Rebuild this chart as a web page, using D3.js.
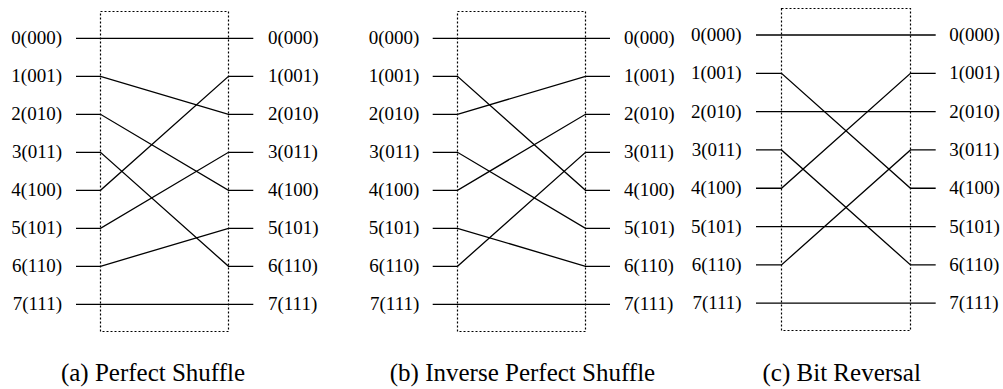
<!DOCTYPE html>
<html>
<head>
<meta charset="utf-8">
<script src="https://cdn.jsdelivr.net/npm/d3@7"></script>
<style>
html,body{margin:0;padding:0;background:#fff;}
svg{display:block;}
</style>
</head>
<body>
<svg id="chart" width="1003" height="389"></svg>
<script>
// ---- data ----
const nodeLabels = ["0(000)","1(001)","2(010)","3(011)","4(100)","5(101)","6(110)","7(111)"];
const perfectShuffle = [0,2,4,6,1,3,5,7];          // input i -> output
const inversePerfectShuffle = [0,4,1,5,2,6,3,7];
const bitReversal = [0,4,2,6,1,5,3,7];
const captions = ["(a) Perfect Shuffle","(b) Inverse Perfect Shuffle","(c) Bit Reversal"];
const mappings = [perfectShuffle, inversePerfectShuffle, bitReversal];

// ---- layout ----
const FONT = "Liberation Serif";
const panels = [
  {labelL:62, lineL:76, boxL:100.5, boxR:228.5, lineR:253.3, labelR:268, top:11.5, bottom:331.5, r0:38.3, r7:304.3, capX:153},
  {labelL:419.3, lineL:432.7, boxL:457.5, boxR:585.5, lineR:610, labelR:624, top:11.5, bottom:331.5, r0:38.3, r7:304.3, capX:522.5},
  {labelL:741.7, lineL:756, boxL:781.5, boxR:910.5, lineR:935.7, labelR:949.3, top:8.5, bottom:330.5, r0:35, r7:303.2, capX:841.7}
];

const svg = d3.select("#chart");
const idx = d3.range(nodeLabels.length);

panels.forEach((p, k) => {
  const y = d3.scaleLinear().domain([0, nodeLabels.length - 1]).range([p.r0, p.r7]);
  const g = svg.append("g");
  const map = mappings[k];

  // dotted box
  g.append("rect")
    .attr("x", p.boxL).attr("y", p.top)
    .attr("width", p.boxR - p.boxL).attr("height", p.bottom - p.top)
    .attr("fill", "none").attr("stroke", "#000")
    .attr("stroke-width", 1.2).attr("stroke-dasharray", "2,2");

  // wires
  g.selectAll("path.wire").data(idx).enter().append("path")
    .attr("class", "wire")
    .attr("fill", "none").attr("stroke", "#000").attr("stroke-width", 1.3)
    .attr("d", i => d3.line()([
      [p.lineL, y(i)], [p.boxL, y(i)],
      [p.boxR, y(map[i])], [p.lineR, y(map[i])]
    ]));

  // labels
  g.selectAll("text.l").data(idx).enter().append("text")
    .attr("class", "l")
    .attr("x", p.labelL).attr("y", i => y(i) + 6)
    .attr("text-anchor", "end").attr("font-size", 19)
    .style("font-family", FONT).attr("fill", "#000")
    .text(i => nodeLabels[i]);
  g.selectAll("text.r").data(idx).enter().append("text")
    .attr("class", "r")
    .attr("x", p.labelR).attr("y", i => y(i) + 6)
    .attr("text-anchor", "start").attr("font-size", 19)
    .style("font-family", FONT).attr("fill", "#000")
    .text(i => nodeLabels[i]);

  g.append("text")
    .attr("x", p.capX).attr("y", 381)
    .attr("text-anchor", "middle").attr("font-size", 25)
    .style("font-family", FONT).attr("fill", "#000")
    .text(captions[k]);
});
</script>
</body>
</html>
